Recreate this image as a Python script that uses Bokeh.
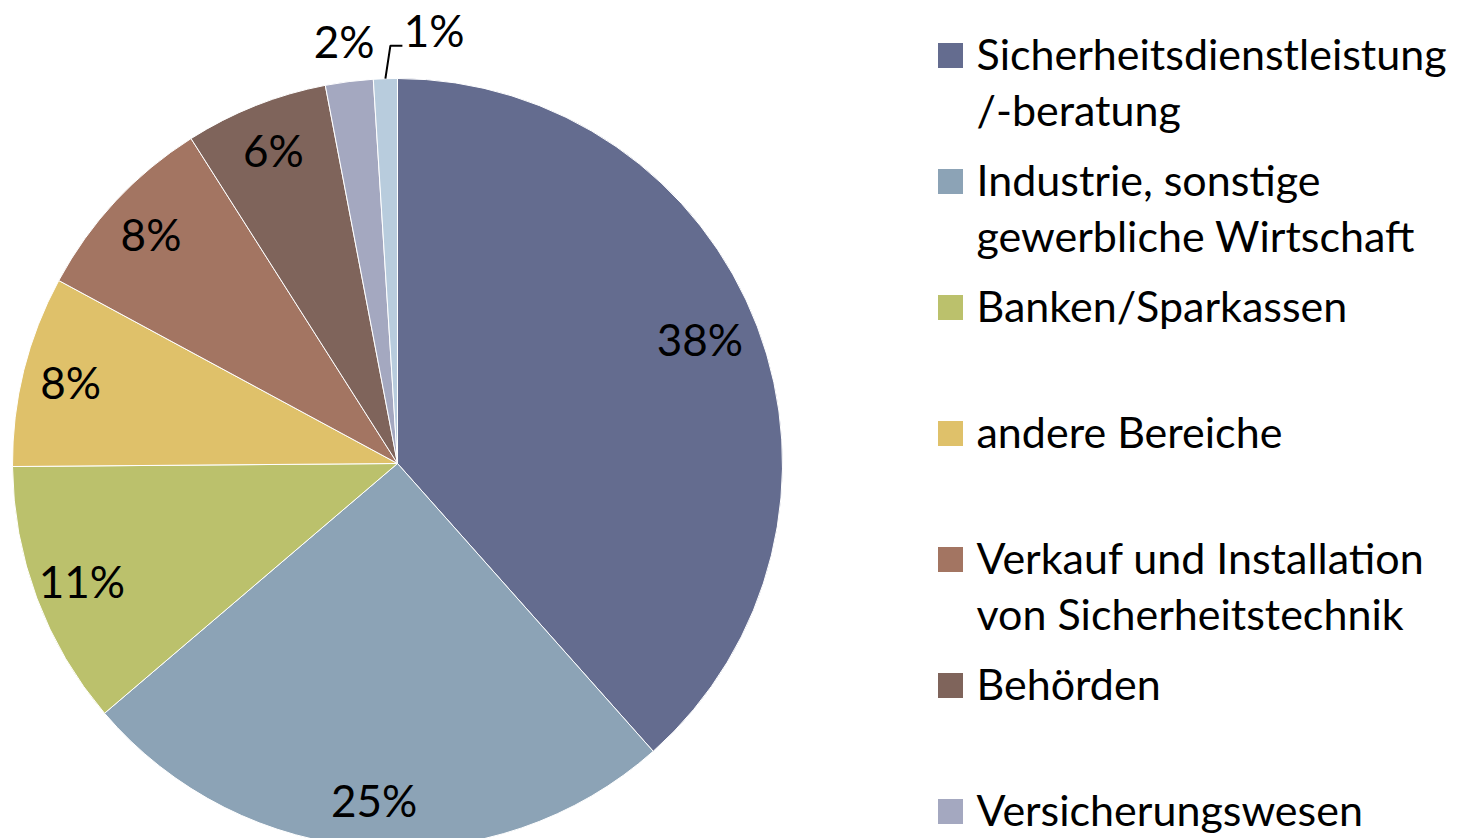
import math
from bokeh.plotting import figure
from bokeh.models import Range1d, ColumnDataSource
from bokeh.core.properties import value
from bokeh.embed import file_html
from bokeh.resources import INLINE

# ---- data ----
categories = [
    "Sicherheitsdienstleistung\n/-beratung",
    "Industrie, sonstige\ngewerbliche Wirtschaft",
    "Banken/Sparkassen",
    "andere Bereiche",
    "Verkauf und Installation\nvon Sicherheitstechnik",
    "Behörden",
    "Versicherungswesen",
]
shares = [38.4, 25.3, 11.1, 8.0, 8.1, 6.0, 2.0, 1.0]
colors = ["#646C8F", "#8CA3B6", "#BBC16C", "#DFC16A", "#A37562", "#7F645B", "#A4A8C0", "#B8CCDD"]

# ---- layout / style ----
W, H = 1472, 838
CX, CY, R = 397, 375, 385
FONT = "Lato"

p = figure(width=W, height=H, x_range=Range1d(0, W), y_range=Range1d(0, H),
           output_backend="svg", toolbar_location=None,
           x_axis_location=None, y_axis_location=None, min_border=0)
p.grid.visible = False
p.outline_line_color = None
p.background_fill_color = "white"
p.border_fill_color = "white"

total = sum(shares)
starts, ends, mids = [], [], []
a = math.pi / 2
for s in shares:
    span = 2 * math.pi * s / total
    starts.append(a)
    ends.append(a - span)
    mids.append(a - span / 2)
    a -= span

src = ColumnDataSource(dict(start=starts, end=ends, color=colors))
p.wedge(x=CX, y=CY, radius=R, start_angle="start", end_angle="end", direction="clock",
        fill_color="color", line_color="white", line_width=1, source=src)

# percentage labels
lx, ly, lt = [], [], []
for i, (s, m) in enumerate(zip(shares, mids)):
    rf = 0.875 if s >= 5 else 1.105
    if s > 30:
        rf = 0.84
    x = CX + R * rf * math.cos(m)
    y = CY + R * rf * math.sin(m)
    if s > 30:
        y += 10
    if i == len(shares) - 1:
        # last (tiny) slice: label pushed to the right with a leader line
        x0 = CX + R * math.cos(m)
        y0 = CY + R * math.sin(m)
        p.line([x0, x0 + 5, x0 + 17], [y0, y0 + 33, y0 + 33], line_color="black", line_width=2)
        x += 50
        y += 8
    lx.append(x)
    ly.append(y)
    lt.append(f"{round(s)}%")
p.text(x=lx, y=ly, text=lt, text_font=value(FONT), text_font_size="44px",
       text_align="center", text_baseline="middle", text_color="black")

# legend
LEG_X, LEG_TOP, LEG_STEP, SQ = 950, 783, 126, 25
for i, (name, c) in enumerate(zip(categories, colors)):
    yy = LEG_TOP - i * LEG_STEP
    p.rect(x=[LEG_X], y=[yy], width=SQ, height=SQ, fill_color=c, line_color=None)
    p.text(x=[LEG_X + 26], y=[yy + 28], text=[name], text_font=value(FONT),
           text_font_size="43px", text_align="left", text_baseline="top",
           text_line_height=1.1, text_color="black")

open("out.html", "w").write(file_html(p, INLINE))
